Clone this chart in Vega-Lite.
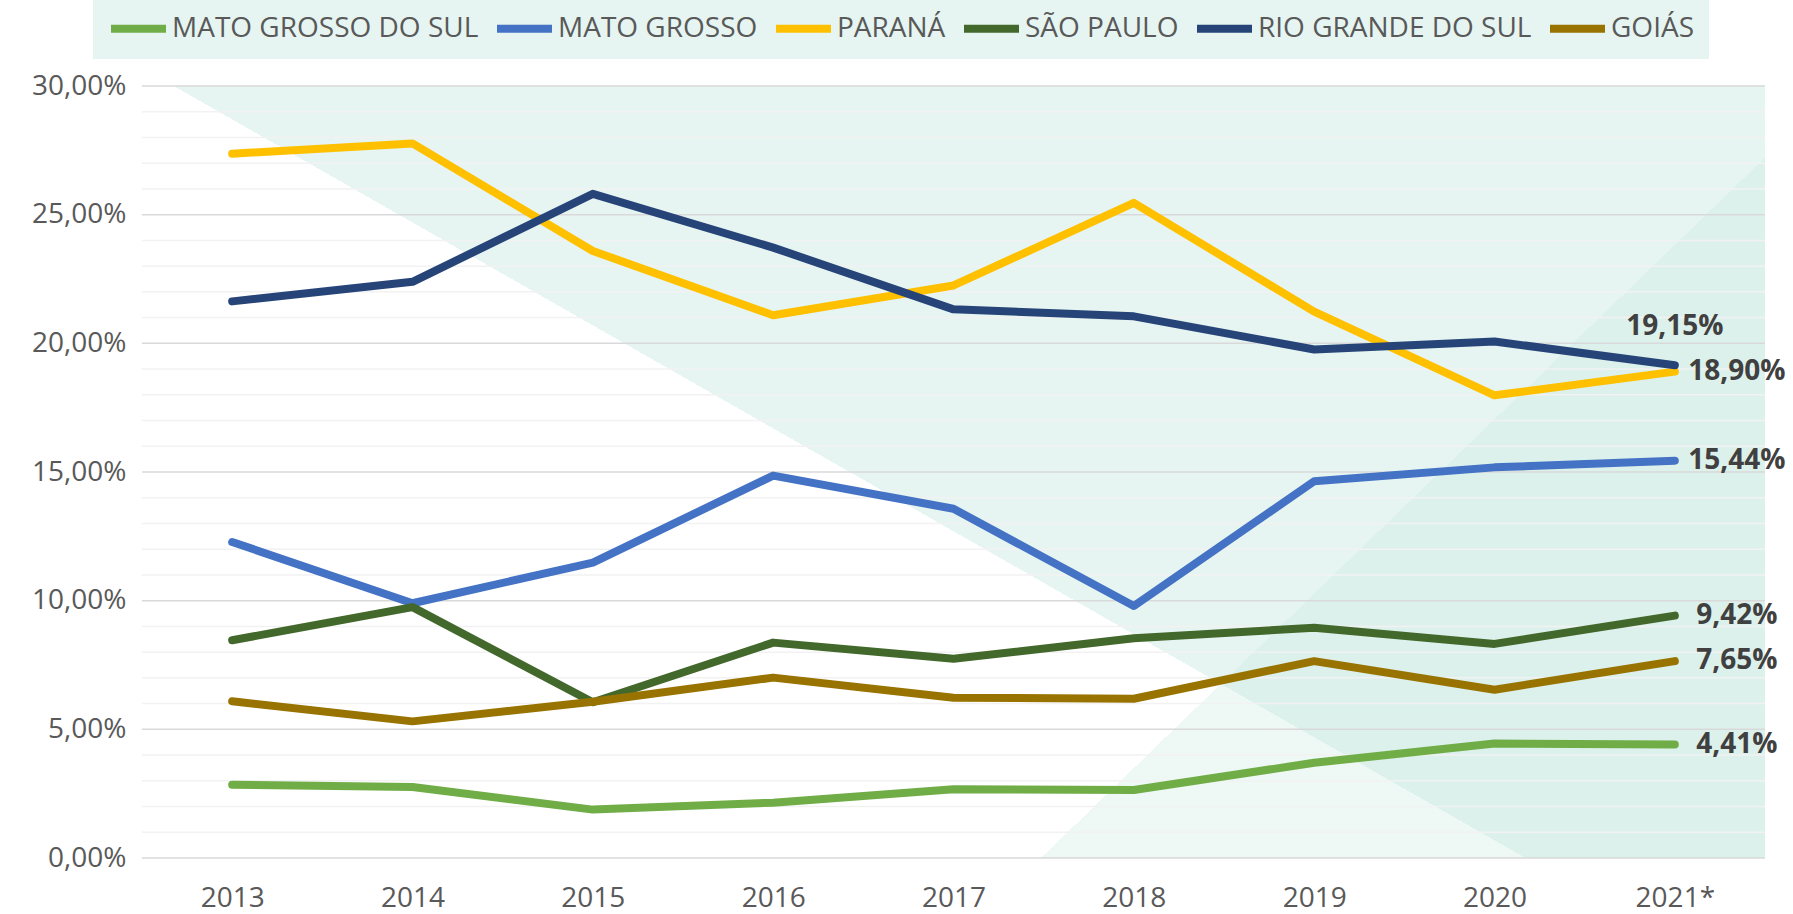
{
  "$schema": "https://vega.github.io/schema/vega-lite/v6.json",
  "width": 1623,
  "height": 772,
  "autosize": {"type": "none"},
  "padding": {"left": 142, "top": 86, "right": 28, "bottom": 56},
  "background": "#ffffff",
  "config": {
    "view": {"stroke": null},
    "font": "Open Sans",
    "axis": {"labelFont": "Open Sans", "labelColor": "#595959", "labelFontSize": 28, "domain": false, "ticks": false, "grid": false, "title": null},
    "legend": {"labelFont": "Open Sans", "labelColor": "#595959", "labelFontSize": 28}
  },
  "layer": [
    {
      "data": {"values": [{"bg": 1}]},
      "mark": {"type": "rect", "fill": {"gradient": "linear", "x1": 0, "y1": 1, "x2": 1.0821, "y2": 0.0986, "stops": [{"offset": 0, "color": "#ffffff"}, {"offset": 0.4651, "color": "#ffffff"}, {"offset": 0.4651, "color": "#e6f5f1"}, {"offset": 1, "color": "#e6f5f1"}]}},
      "encoding": {}
    },
    {
      "data": {"values": [{"bg": 2}]},
      "mark": {"type": "rect", "fill": {"gradient": "linear", "x1": 0, "y1": 0, "x2": 1.2013, "y2": 0.5909, "stops": [{"offset": 0, "color": "rgba(198,232,222,0)"}, {"offset": 0.7009, "color": "rgba(198,232,222,0)"}, {"offset": 0.7009, "color": "rgba(198,232,222,0.3)"}, {"offset": 1, "color": "rgba(198,232,222,0.3)"}]}},
      "encoding": {}
    },
    {
      "data": {"values": [{"g": 0}, {"g": 1}, {"g": 2}, {"g": 3}, {"g": 4}, {"g": 5}, {"g": 6}, {"g": 7}, {"g": 8}, {"g": 9}, {"g": 10}, {"g": 11}, {"g": 12}, {"g": 13}, {"g": 14}, {"g": 15}, {"g": 16}, {"g": 17}, {"g": 18}, {"g": 19}, {"g": 20}, {"g": 21}, {"g": 22}, {"g": 23}, {"g": 24}, {"g": 25}, {"g": 26}, {"g": 27}, {"g": 28}, {"g": 29}, {"g": 30}]},
      "mark": {"type": "rule", "strokeWidth": 1.5},
      "encoding": {
        "y": {"field": "g", "type": "quantitative", "scale": {"domain": [0, 30], "nice": false, "zero": false},
          "axis": {"values": [0, 5, 10, 15, 20, 25, 30], "labelPadding": 16, "labelExpr": "replace(format(datum.value, '.2f'), '.', ',') + '%'"}},
        "color": {"condition": {"test": "datum.g % 5 === 0", "value": "#d9d9d9"}, "value": "#f2f2f2"}
      }
    },
    {
      "data": {"name": "main"},
      "mark": {"type": "line", "strokeWidth": 8, "strokeCap": "round", "strokeJoin": "round"},
      "encoding": {
        "x": {"field": "ano", "type": "ordinal", "sort": null, "scale": {"type": "point", "padding": 0.5}, "axis": {"labelAngle": 0, "labelPadding": 26}},
        "y": {"field": "v", "type": "quantitative"},
        "color": {"field": "estado", "type": "nominal",
          "scale": {"domain": ["MATO GROSSO DO SUL", "MATO GROSSO", "PARANÁ", "SÃO PAULO", "RIO GRANDE DO SUL", "GOIÁS"], "range": ["#70ad47", "#4472c4", "#ffc000", "#43682b", "#264478", "#997300"]},
          "legend": {"orient": "none", "legendX": -49, "legendY": -103, "direction": "horizontal", "title": null, "symbolType": "stroke", "symbolSize": 3025, "symbolStrokeWidth": 8, "labelOffset": 2, "labelLimit": 0, "columnPadding": 2, "padding": 14, "fillColor": "#e6f5f1"}}
      }
    },
    {
      "data": {"name": "main"},
      "transform": [{"filter": "datum.ano === '2021*' && datum.estado !== 'RIO GRANDE DO SUL'"}, {"calculate": "replace(format(datum.v, '.2f'), '.', ',') + '%'", "as": "rot"}],
      "mark": {"type": "text", "font": "Open Sans", "fontWeight": "bold", "fontSize": 28, "color": "#404040", "align": "center", "baseline": "middle", "dx": 62},
      "encoding": {
        "x": {"field": "ano", "type": "ordinal", "sort": null},
        "y": {"field": "v", "type": "quantitative"},
        "text": {"field": "rot"}
      }
    },
    {
      "data": {"name": "main"},
      "transform": [{"filter": "datum.ano === '2021*' && datum.estado === 'RIO GRANDE DO SUL'"}, {"calculate": "replace(format(datum.v, '.2f'), '.', ',') + '%'", "as": "rot"}],
      "mark": {"type": "text", "font": "Open Sans", "fontWeight": "bold", "fontSize": 28, "color": "#404040", "align": "center", "baseline": "middle", "dy": -38},
      "encoding": {
        "x": {"field": "ano", "type": "ordinal", "sort": null},
        "y": {"field": "v", "type": "quantitative"},
        "text": {"field": "rot"}
      }
    }
  ],
  "datasets": {
    "main": [
      {"estado": "MATO GROSSO DO SUL", "ano": "2013", "v": 2.85},
      {"estado": "MATO GROSSO DO SUL", "ano": "2014", "v": 2.76},
      {"estado": "MATO GROSSO DO SUL", "ano": "2015", "v": 1.88},
      {"estado": "MATO GROSSO DO SUL", "ano": "2016", "v": 2.15},
      {"estado": "MATO GROSSO DO SUL", "ano": "2017", "v": 2.67},
      {"estado": "MATO GROSSO DO SUL", "ano": "2018", "v": 2.64},
      {"estado": "MATO GROSSO DO SUL", "ano": "2019", "v": 3.70},
      {"estado": "MATO GROSSO DO SUL", "ano": "2020", "v": 4.45},
      {"estado": "MATO GROSSO DO SUL", "ano": "2021*", "v": 4.41},
      {"estado": "MATO GROSSO", "ano": "2013", "v": 12.28},
      {"estado": "MATO GROSSO", "ano": "2014", "v": 9.90},
      {"estado": "MATO GROSSO", "ano": "2015", "v": 11.48},
      {"estado": "MATO GROSSO", "ano": "2016", "v": 14.86},
      {"estado": "MATO GROSSO", "ano": "2017", "v": 13.57},
      {"estado": "MATO GROSSO", "ano": "2018", "v": 9.79},
      {"estado": "MATO GROSSO", "ano": "2019", "v": 14.64},
      {"estado": "MATO GROSSO", "ano": "2020", "v": 15.18},
      {"estado": "MATO GROSSO", "ano": "2021*", "v": 15.44},
      {"estado": "PARANÁ", "ano": "2013", "v": 27.37},
      {"estado": "PARANÁ", "ano": "2014", "v": 27.77},
      {"estado": "PARANÁ", "ano": "2015", "v": 23.59},
      {"estado": "PARANÁ", "ano": "2016", "v": 21.09},
      {"estado": "PARANÁ", "ano": "2017", "v": 22.25},
      {"estado": "PARANÁ", "ano": "2018", "v": 25.46},
      {"estado": "PARANÁ", "ano": "2019", "v": 21.23},
      {"estado": "PARANÁ", "ano": "2020", "v": 17.98},
      {"estado": "PARANÁ", "ano": "2021*", "v": 18.90},
      {"estado": "SÃO PAULO", "ano": "2013", "v": 8.46},
      {"estado": "SÃO PAULO", "ano": "2014", "v": 9.75},
      {"estado": "SÃO PAULO", "ano": "2015", "v": 6.05},
      {"estado": "SÃO PAULO", "ano": "2016", "v": 8.37},
      {"estado": "SÃO PAULO", "ano": "2017", "v": 7.74},
      {"estado": "SÃO PAULO", "ano": "2018", "v": 8.54},
      {"estado": "SÃO PAULO", "ano": "2019", "v": 8.95},
      {"estado": "SÃO PAULO", "ano": "2020", "v": 8.32},
      {"estado": "SÃO PAULO", "ano": "2021*", "v": 9.42},
      {"estado": "RIO GRANDE DO SUL", "ano": "2013", "v": 21.63},
      {"estado": "RIO GRANDE DO SUL", "ano": "2014", "v": 22.39},
      {"estado": "RIO GRANDE DO SUL", "ano": "2015", "v": 25.81},
      {"estado": "RIO GRANDE DO SUL", "ano": "2016", "v": 23.72},
      {"estado": "RIO GRANDE DO SUL", "ano": "2017", "v": 21.32},
      {"estado": "RIO GRANDE DO SUL", "ano": "2018", "v": 21.05},
      {"estado": "RIO GRANDE DO SUL", "ano": "2019", "v": 19.76},
      {"estado": "RIO GRANDE DO SUL", "ano": "2020", "v": 20.07},
      {"estado": "RIO GRANDE DO SUL", "ano": "2021*", "v": 19.15},
      {"estado": "GOIÁS", "ano": "2013", "v": 6.09},
      {"estado": "GOIÁS", "ano": "2014", "v": 5.31},
      {"estado": "GOIÁS", "ano": "2015", "v": 6.07},
      {"estado": "GOIÁS", "ano": "2016", "v": 7.01},
      {"estado": "GOIÁS", "ano": "2017", "v": 6.23},
      {"estado": "GOIÁS", "ano": "2018", "v": 6.19},
      {"estado": "GOIÁS", "ano": "2019", "v": 7.65},
      {"estado": "GOIÁS", "ano": "2020", "v": 6.54},
      {"estado": "GOIÁS", "ano": "2021*", "v": 7.65}
    ]
  }
}
